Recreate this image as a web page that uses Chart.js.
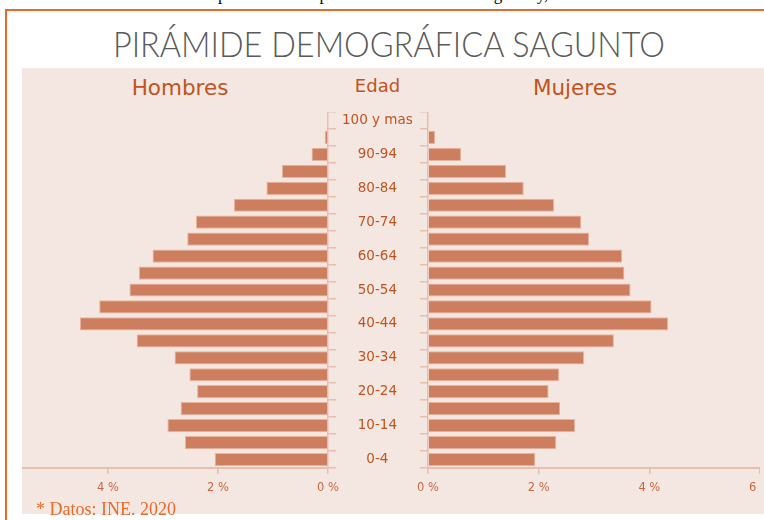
<!DOCTYPE html>
<html>
<head>
<meta charset="utf-8">
<script src="https://cdn.jsdelivr.net/npm/chart.js@4.4.1/dist/chart.umd.min.js"></script>
<style>
body{margin:0;width:764px;height:520px;overflow:hidden;background:#fff;position:relative;font-family:"DejaVu Sans",sans-serif}
#texto{position:absolute;left:218px;top:-14.5px;font:17px/17px "Liberation Serif",serif;color:#000;white-space:nowrap}
#marco{position:absolute;left:5px;top:9px;width:800px;height:600px;border-left:2px solid #E36C2C;border-top:2px solid #E36C2C}
#titulo{position:absolute;left:0;top:26px;width:778px;text-align:center;white-space:nowrap}
#titulo span{display:inline-block;font:300 35px/35px Lato,sans-serif;color:#5a5a5a;transform-origin:50% 50%}
#panel{position:absolute;left:22px;top:68px;width:742px;height:446px;background:#F4E7E1;overflow:hidden}
.cab{position:absolute;color:#C0531F;white-space:nowrap;transform:translate(-50%,-50%);line-height:22px}
canvas{position:absolute}
#fuente{position:absolute;left:36px;top:500px;font:18px/18px "Liberation Serif",serif;color:#E36C2C;white-space:nowrap}
</style>
</head>
<body>
<div id="texto">pirámide de la población residente en Sagunto y,</div>
<div id="marco"></div>
<div id="titulo"><span>PIRÁMIDE DEMOGRÁFICA SAGUNTO</span></div>
<div id="panel">
  <canvas id="izq" width="430" height="396" style="left:-23.7px;top:44px"></canvas>
  <canvas id="der" width="370" height="396" style="left:368.3px;top:44px"></canvas>
</div>
<div class="cab" style="left:180px;top:88px;font-size:21.5px">Hombres</div>
<div class="cab" style="left:377.5px;top:86px;font-size:18px">Edad</div>
<div class="cab" style="left:575px;top:88px;font-size:21.5px">Mujeres</div>
<div id="fuente">* Datos: INE. 2020</div>
<script>
// datos (% de poblacion por grupo de edad)
const edades = ['100 y mas','95-99','90-94','85-89','80-84','75-79','70-74','65-69','60-64','55-59','50-54',
                '45-49','40-44','35-39','30-34','25-29','20-24','15-19','10-14','5-9','0-4'];
const hombres = [0, 0.06, 0.30, 0.84, 1.12, 1.71, 2.40, 2.56, 3.19, 3.44, 3.61,
                 4.16, 4.51, 3.48, 2.79, 2.52, 2.38, 2.68, 2.92, 2.60, 2.06];
const mujeres = [0, 0.13, 0.60, 1.41, 1.73, 2.28, 2.77, 2.91, 3.51, 3.55, 3.66,
                 4.04, 4.34, 3.36, 2.82, 2.37, 2.18, 2.39, 2.66, 2.32, 1.94];
const ticksX = [0, 2, 4, 6];

// ajustar ancho del titulo
let tit = document.querySelector('#titulo span');
tit.style.transform = 'scaleX(' + (552 / tit.getBoundingClientRect().width) + ')';

const colorBarra = '#CD7E5F';
const bordeBarra = '#E9B49C';
const lineaEje = '#E6BFAD';
const colorTexto = '#C0531F';

function escalaX(invertida){
    return {
        reverse: invertida, min: 0, max: 6,
        afterBuildTicks: s => { s.ticks = ticksX.map(v => ({value: v})); },
        afterFit: s => { s.height = 40; s.paddingLeft = 0; s.paddingRight = 0; },
        grid: {drawOnChartArea: false, tickLength: 6, color: lineaEje, lineWidth: 1.5},
        border: {color: lineaEje, width: 2},
        ticks: {padding: 7, color: '#C8683E', font: {family: 'DejaVu Sans', size: 11.5},
                callback: v => v + ' %'}
    };
}

function datos(valores){
    return {
        labels: edades,
        datasets: [{
            data: valores,
            backgroundColor: colorBarra,
            borderColor: bordeBarra,
            borderWidth: 1,
            barPercentage: 0.78,
            categoryPercentage: 1
        }]
    };
}

let opcionesBase = {
    indexAxis: 'y',
    responsive: false,
    animation: false,
    plugins: {legend: {display: false}, tooltip: {enabled: false}}
};

//Hombres (con la columna de edades)
new Chart(document.getElementById('izq'), {
    type: 'bar',
    data: datos(hombres),
    options: Object.assign({}, opcionesBase, {
        layout: {padding: 0},
        scales: {
            x: escalaX(true),
            y: {
                position: 'right',
                afterFit: s => { s.width = 100; s.paddingTop = 0; s.paddingBottom = 0; },
                grid: {drawOnChartArea: false, tickLength: 8, color: lineaEje, lineWidth: 1.5, offset: true},
                border: {color: lineaEje, width: 1.5},
                ticks: {crossAlign: 'center', padding: 6, autoSkip: false, color: colorTexto,
                        font: {family: 'DejaVu Sans', size: 13.5},
                        callback: (v, i) => i % 2 === 0 ? edades[i] : ''}
            }
        }
    })
});

//Mujeres
new Chart(document.getElementById('der'), {
    type: 'bar',
    data: datos(mujeres),
    options: Object.assign({}, opcionesBase, {
        layout: {padding: {left: 30, right: 0, top: 0, bottom: 0}},
        scales: {
            x: escalaX(false),
            y: {
                position: 'left',
                afterFit: s => { s.width = 8; s.paddingTop = 0; s.paddingBottom = 0; },
                grid: {drawOnChartArea: false, tickLength: 8, color: lineaEje, lineWidth: 1.5, offset: true},
                border: {color: lineaEje, width: 1.5},
                ticks: {display: false}
            }
        }
    })
});
</script>
</body>
</html>
